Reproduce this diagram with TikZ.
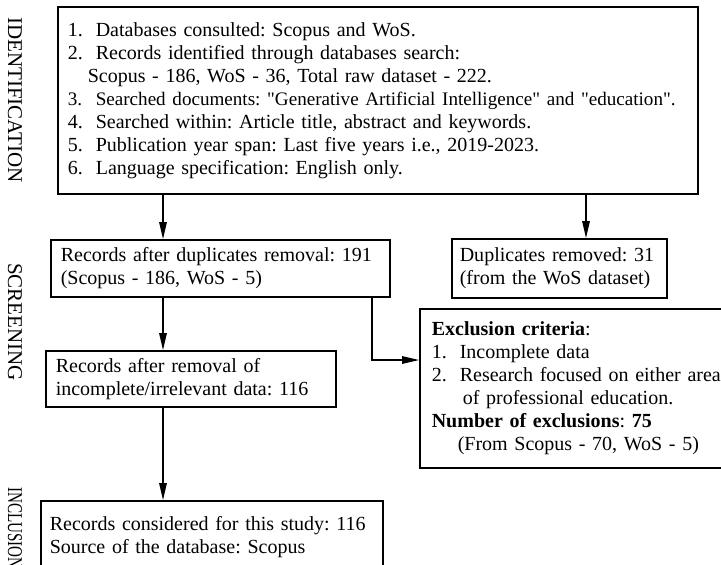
\documentclass[tikz,border=0pt]{standalone}
\usepackage{fontspec}
\setmainfont{Liberation Serif}
\usetikzlibrary{arrows.meta}
\frenchspacing

\newcommand{\listno}[1]{\makebox[14pt][l]{#1}}

\begin{document}
\begin{tikzpicture}[x=0.5pt, y=-0.5pt,
    every node/.style={font=\fontsize{10}{11.5}\selectfont},
    box/.style={draw, line width=0.8pt, anchor=north west, align=left, inner xsep=5pt, inner ysep=0pt},
    stage/.style={font=\fontsize{10.5}{12}\selectfont, rotate=-90, inner sep=0pt},
    flow/.style={-{Triangle[length=8.5pt, width=3.8pt]}, line width=0.6pt}]
    % Canvas
    \path[fill=white, use as bounding box] (0,0) rectangle (721,564);

    % Stage labels
    \node[stage] (ident) at (15,100) {IDENTIFICATION};
    \node[stage] (screen) at (15,322) {SCREENING};
    \node[stage, xscale=0.72, anchor=west] (incl) at (15,487) {INCLUSION};

    % Identification box
    \node[box, text width=310pt, minimum height=93.5pt] (idbox) at (57,6) {%
        \listno{1.}Databases consulted: Scopus and WoS.\\
        \listno{2.}Records identified through databases search:\\
        \hspace*{10pt}Scopus - 186, WoS - 36, Total raw dataset - 222.\\
        \mbox{\fontsize{9.55}{11.5}\selectfont\listno{3.}Searched documents: \textquotedbl Generative Artificial Intelligence\textquotedbl{} and \textquotedbl education\textquotedbl .}\\
        \listno{4.}Searched within: Article title, abstract and keywords.\\
        \listno{5.}Publication year span: Last five years i.e., 2019-2023.\\
        \listno{6.}Language specification: English only.};

    % Screening boxes
    \node[box, text width=159.5pt, minimum height=28.5pt] (recdup) at (50,239)
        {Records after duplicates removal: 191\\(Scopus - 186, WoS - 5)};
    \node[box, inner xsep=4pt, text width=99.5pt, minimum height=29.5pt] (dupbox) at (451,238)
        {Duplicates removed: 31\\(from the WoS dataset)};
    \node[box, inner xsep=6pt, text width=150pt, minimum height=79.5pt] (exclbox) at (419,308) {%
        \textbf{Exclusion criteria}:\\
        \listno{1.}Incomplete data\\
        \mbox{\listno{2.}Research focused on either area}\\
        \hspace*{15.5pt}of professional education.\\
        \textbf{Number of exclusions}: \textbf{75}\\
        \hspace*{13pt}(From Scopus - 70, WoS - 5)};
    \node[box, text width=135pt, minimum height=28pt] (removal) at (45,350)
        {Records after removal of\\incomplete/irrelevant data: 116};

    % Inclusion box
    \node[box, inner xsep=4.5pt, text width=162pt, minimum height=36pt] (final) at (40,500)
        {\mbox{Records considered for this study: 116}\\Source of the database: Scopus};

    % Arrows
    \coordinate (spine) at (163,0);
    \coordinate (dupx) at (586,0);
    \coordinate (bend) at (372,360);
    \draw[flow] (idbox.south -| spine) -- (recdup.north -| spine);
    \draw[flow] (idbox.south -| dupx) -- (dupbox.north -| dupx);
    \draw[flow] (recdup.south -| spine) -- (removal.north -| spine);
    \draw[flow] (removal.south -| spine) -- (final.north -| spine);
    \draw[flow] (recdup.south -| bend) -- (bend) -- (bend -| exclbox.west);
\end{tikzpicture}
\end{document}
